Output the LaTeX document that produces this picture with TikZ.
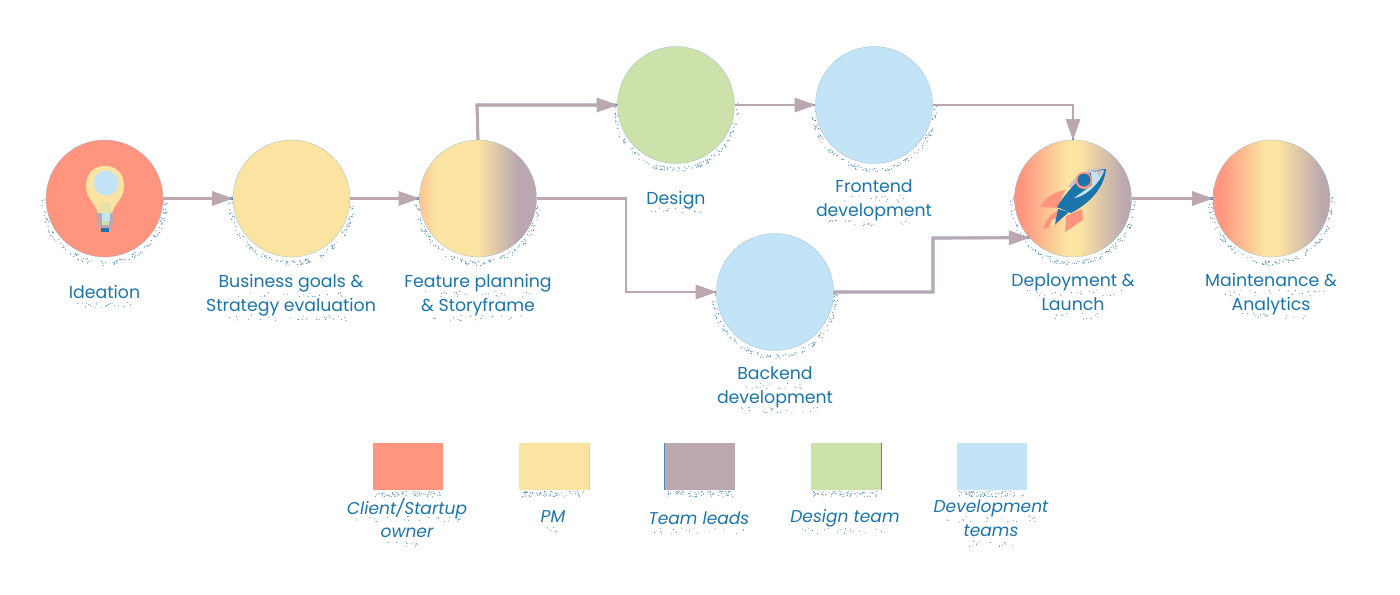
\documentclass[tikz,border=0pt]{standalone}
\usepackage{fontspec}
\setmainfont{Poppins}
\usetikzlibrary{arrows.meta}
\definecolor{salmon}{HTML}{FF957E}
\definecolor{butter}{HTML}{FBE3A2}
\definecolor{mauve}{HTML}{BBA7B0}
\definecolor{sage}{HTML}{CDE1AB}
\definecolor{sky}{HTML}{C2E4F6}
\definecolor{inkblue}{HTML}{1B75AB}
\definecolor{edgeblue}{HTML}{4F8AB2}
\pgfdeclarehorizontalshading{fullgrad}{100bp}{color(0bp)=(salmon); color(28bp)=(salmon); color(47bp)=(butter); color(53bp)=(butter); color(72bp)=(mauve); color(100bp)=(mauve)}
\pgfdeclarehorizontalshading{featgrad}{100bp}{color(0bp)=(butter!60!salmon); color(25bp)=(butter!60!salmon); color(32bp)=(butter); color(50bp)=(butter); color(67bp)=(mauve); color(100bp)=(mauve)}
\tikzset{
  stage/.style={circle,minimum size=117*0.75pt,inner sep=0pt,draw=edgeblue!70!white,line width=0.15pt},
  lab/.style={text=inkblue,align=center,font=\fontsize{13}{17.7}\selectfont,inner sep=0pt},
  leglab/.style={lab,font=\fontsize{12.8}{17.7}\selectfont\itshape},
  swatch/.style={rectangle,minimum width=70*0.75pt,minimum height=47*0.75pt,inner sep=0pt},
  flowedge/.style={draw=edgeblue,line width=2.6*0.75pt},
  flow/.style={draw=mauve,line width=2.8*0.75pt,
    -{Triangle[length=15.5pt,width=11pt,fill=mauve,line width=0.4pt]}}
}
\newcommand{\halo}[2]{%
  \foreach \i in {1,...,120}{%
    \pgfmathsetmacro{\ang}{-5+190*rnd}%
    \pgfmathsetmacro{\rad}{58.5+4.5*rnd}%
    \fill[edgeblue] ({#1+\rad*cos(\ang)},{#2+4+\rad*sin(\ang)}) circle (0.6);
  }%
}
\newcommand{\speck}[4]{%
  \foreach \i in {1,...,#4}{%
    \pgfmathsetmacro{\dx}{(#3)*(rnd-0.5)}%
    \pgfmathsetmacro{\dy}{6*rnd}%
    \fill[edgeblue] ({#1+\dx},{#2+\dy}) circle (0.55);
  }%
}
\begin{document}
\begin{tikzpicture}[x=0.75pt,y=-0.75pt]
\useasboundingbox (0,0) rectangle (1400,594);
\pgfmathsetseed{7}
% dotted halos
\halo{104.5}{198.5}\halo{291.5}{198.5}\halo{478}{198.5}\halo{676}{105}
\halo{874}{105}\halo{775}{292}\halo{1073}{198.5}\halo{1271.5}{198.5}
% text specks
\speck{104}{302}{60}{22}
\speck{291}{291}{110}{22}\speck{291}{315}{130}{28}
\speck{478}{291}{120}{24}\speck{478}{315}{90}{20}
\speck{676}{208}{50}{14}
\speck{874}{196}{60}{16}\speck{874}{220}{90}{20}
\speck{775}{383}{60}{16}\speck{775}{407}{90}{20}
\speck{1073}{290}{100}{22}\speck{1073}{313}{50}{12}
\speck{1271}{290}{110}{24}\speck{1271}{313}{70}{16}
% legend specks
\speck{408}{491}{66}{70}\speck{554}{491}{66}{70}\speck{700}{491}{66}{70}\speck{846}{491}{66}{70}\speck{992}{491}{66}{70}
\speck{407}{516}{110}{26}\speck{407}{541}{40}{12}\speck{553}{526}{14}{6}
\speck{699}{528}{90}{20}\speck{845}{528}{90}{20}\speck{991}{516}{90}{20}\speck{991}{541}{44}{12}
% stages
\node[stage,fill=salmon] (ideation) at (104.5,198.5) {};
\node[stage,fill=butter] (business) at (291.5,198.5) {};
\node[stage,shading=featgrad] (feature) at (478,198.5) {};
\node[stage,fill=sage] (design) at (676,105) {};
\node[stage,fill=sky] (frontend) at (874,105) {};
\node[stage,fill=sky] (backend) at (775,292) {};
\node[stage,shading=fullgrad] (deploy) at (1073,198.5) {};
\node[stage,shading=fullgrad] (maintain) at (1271.5,198.5) {};
% labels
\node[lab] (l1) at (104.5,292) {Ideation};
\node[lab] (l2) at (291,295) {Business goals \&\\Strategy evaluation};
\node[lab] (l3) at (478,295) {Feature planning\\\& Storyframe};
\node[lab] (l4) at (676,200) {Design};
\node[lab] (l5) at (874,200.5) {Frontend\\development};
\node[lab] (l6) at (775,387.5) {Backend\\development};
\node[lab] (l7) at (1073,292) {Deployment \&\\Launch};
\node[lab] (l8) at (1271,294) {Maintenance \&\\Analytics};
% routing points
\coordinate (upbend) at (477,105);
\coordinate (lowbend) at (626,198.5);
\coordinate (topbend) at (1073,105);
\coordinate (risebend) at (933,238);
% connector blue edge (shifted up-left), then connector
\begin{scope}[shift={(-0.7,-0.7)}]
\draw[flowedge] (feature.north) -- (upbend) -- (design.west);
\draw[flowedge] (ideation.east) -- (business.west);
\draw[flowedge] (business.east) -- (feature.west);
\draw[flowedge] (design.east) -- (frontend.west);
\draw[flowedge] (feature.east) -- (lowbend) |- (backend.west);
\draw[flowedge] (frontend.east) -- (topbend) -- (deploy.north);
\draw[flowedge] (backend.east) -| (risebend) -- (deploy.222.5);
\draw[flowedge] (deploy.east) -- (maintain.west);
\end{scope}
\draw[flow] (ideation.east) -- (business.west);
\draw[flow] (business.east) -- (feature.west);
\draw[flow] (feature.north) -- (upbend) -- (design.west);
\draw[flow] (design.east) -- (frontend.west);
\draw[flow] (feature.east) -- (lowbend) |- (backend.west);
\draw[flow] (frontend.east) -- (topbend) -- (deploy.north);
\draw[flow] (backend.east) -| (risebend) -- (deploy.222.5);
\draw[flow] (deploy.east) -- (maintain.west);
% bulb
\fill[butter] (98,214) .. controls (97,204) and (86,200) .. (86,186)
  .. controls (86,172) and (95,166) .. (105,166)
  .. controls (115,166) and (124,172) .. (124,186)
  .. controls (124,200) and (113,204) .. (112,214) -- cycle;
\fill[sky] (106,183) circle (12.5);
\fill[sage!50!butter] (99,203) rectangle (111,213);
\fill[mauve] (96,213) -- (114,213) -- (112,228) -- (99,228) -- cycle;
\fill[sky] (102,213) rectangle (110,221);
\fill[sage] (102,221) rectangle (109,225);
\fill[inkblue] (101,228) rectangle (109,232);
% rocket
\fill[salmon] (1040,207) .. controls (1045,197) and (1055,192) .. (1065,190) -- (1058,208) -- cycle;
\fill[salmon] (1065,232) -- (1066,216) -- (1082,209) -- (1083,220) -- cycle;
\fill[salmon] (1043,229) .. controls (1046,220) and (1050,214) .. (1058,211) -- (1062,218) -- (1055,226) -- cycle;
\fill[butter] (1049,227) -- (1053,219) -- (1059,219) -- (1054,226) -- cycle;
\fill[mauve!70!white] (1106,169) .. controls (1092,166) and (1078,172) .. (1068,187) -- (1090,190) -- cycle;
\fill[inkblue] (1106,169) .. controls (1090,170) and (1074,180) .. (1057,207)
  -- (1071,213) .. controls (1090,203) and (1104,188) .. cycle;
\fill[inkblue] (1058,209) -- (1055,224) -- (1069,212) -- cycle;
\fill[sky] (1104,171) -- (1091,172) -- (1092,185) -- (1074,198)
  .. controls (1084,197) and (1098,186) .. cycle;
\fill[mauve!70!white] (1104,170) -- (1096,171) -- (1099,177) -- cycle;
\fill[salmon] (1084,180.5) circle (8.5);
\fill[inkblue] (1084,180) circle (6.5);
% legend
\node[swatch,fill=salmon] (s1) at (408,466.5) {};
\node[swatch,fill=butter] (s2) at (554,466.5) {};
\node[swatch,fill=mauve] (s3) at (700,466.5) {};
\node[swatch,fill=sage] (s4) at (846,466.5) {};
\node[swatch,fill=sky] (s5) at (991.5,466.5) {};
\draw[sage,line width=0.6pt] (s2.north east) -- (s2.south east);
\draw[edgeblue,line width=0.6pt] (s3.north west) -- (s3.south west);
\draw[edgeblue,line width=0.6pt] (s4.north east) -- (s4.south east);
\node[leglab] (t1) at (407,518) {Client/Startup\\owner};
\node[leglab] (t2) at (553,517) {PM};
\node[leglab] (t3) at (699,518) {Team leads};
\node[leglab] (t4) at (845,518) {Design team};
\node[leglab] (t5) at (991,518) {Development\\teams};
\end{tikzpicture}
\end{document}
